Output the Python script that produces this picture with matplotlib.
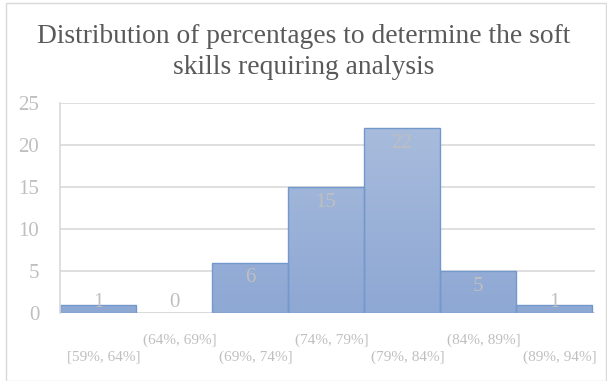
import matplotlib
matplotlib.use("Agg")
import matplotlib.pyplot as plt
import numpy as np
from matplotlib.patches import Rectangle
import matplotlib.transforms as mtransforms
from matplotlib.colors import LinearSegmentedColormap

categories = ["[59%, 64%]", "(64%, 69%]", "(69%, 74%]", "(74%, 79%]",
              "(79%, 84%]", "(84%, 89%]", "(89%, 94%]"]
counts = [1, 0, 6, 15, 22, 5, 1]
yticks = [0, 5, 10, 15, 20, 25]
title = "Distribution of percentages to determine the soft\nskills requiring analysis"

W, H = 607, 381
fig = plt.figure(figsize=(W / 100, H / 100), dpi=100)
plt.rcParams['font.family'] = ['Liberation Serif', 'DejaVu Serif']

# outer chart border
fig.patches.append(Rectangle((6 / W, 0), (W - 7) / W, (H - 3) / H, transform=fig.transFigure,
                             fill=False, edgecolor='#d9d9d9', linewidth=1))

ax = fig.add_axes([60 / W, (H - 313) / H, 535 / W, 210 / H])
x = np.arange(len(counts))
bars = ax.bar(x, counts, width=1.0, color='#98b0d8', edgecolor='#7398cc', linewidth=1, zorder=2)

# vertical gradient fill
grad = np.linspace(0, 1, 256).reshape(-1, 1)
cmap = LinearSegmentedColormap.from_list('g', ['#8ea8d4', '#abbedd'])
for b in bars:
    if b.get_height() <= 0:
        b.set_visible(False)
        continue
    x0 = b.get_x()
    w = b.get_width()
    im = ax.imshow(grad, extent=[x0, x0 + w, 0, 25], origin='lower', cmap=cmap,
                   aspect='auto', zorder=2.1)
    im.set_clip_path(b)
    b.set_facecolor('none')
    b.set_zorder(2.2)

ax.set_xlim(-0.5, len(counts) - 0.5 + 0.04)
ax.set_ylim(0, 25)
ax.set_yticks(yticks)
ax.yaxis.grid(True, color='#d9d9d9', linewidth=1.2, zorder=0)
ax.set_axisbelow(True)
for s in ['top', 'right', 'bottom']:
    ax.spines[s].set_visible(False)
ax.spines['left'].set_color('#d9d9d9')
ax.spines['left'].set_linewidth(1.2)
ax.axhline(0, color='#d9d9d9', linewidth=1.2, zorder=1)
ax.tick_params(axis='y', length=0, pad=15, labelsize=15, labelcolor='#bfbfbf')
ax.set_xticks([])

# category labels, staggered rows
trans = mtransforms.blended_transform_factory(ax.transData, ax.transAxes)
for i, lab in enumerate(categories):
    yy = -0.128 if i % 2 else -0.21
    ax.text(i + 0.08, yy, lab, transform=trans, ha='center', va='center',
            fontsize=11, color='#bfbfbf')

# data labels
for i, v in enumerate(counts):
    yc = max(v - 1.8, 1.2)
    ax.text(i, yc, str(v), ha='center', va='center', fontsize=15, color='#bfbfbf', zorder=3)

fig.text(0.5, (H - 52) / H, title, ha='center', va='center', fontsize=19.8,
         color='#595959', linespacing=1.32)

fig.savefig('out.png', dpi=100)
